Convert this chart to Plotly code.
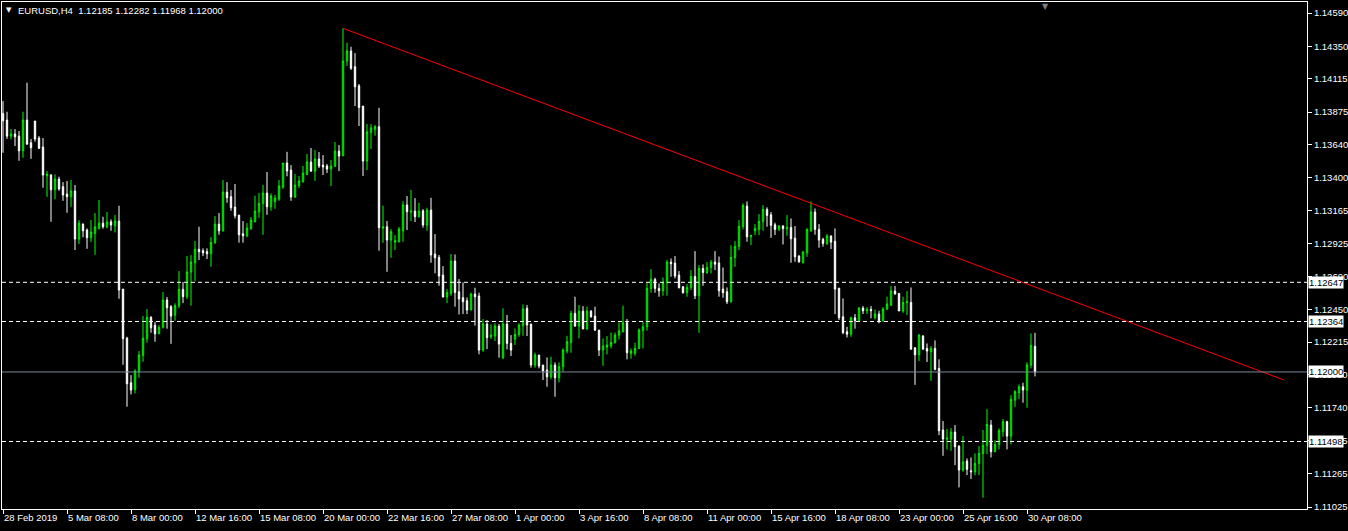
import plotly.graph_objects as go

# ---------------- data (EURUSD H4) ----------------
opens = [1.13866,1.13818,1.13702,1.13717,1.13702,1.13596,1.13818,1.13654,1.13811,1.13688,
 1.13623,1.13416,1.13421,1.13315,1.13392,1.13337,1.13284,1.13265,1.13306,1.12959,
 1.13067,1.13024,1.12969,1.13000,1.13036,1.13074,1.13048,1.13084,1.13055,1.13089,
 1.12598,1.12244,1.11922,1.11874,1.12002,1.12120,1.12240,1.12394,1.12338,1.12275,
 1.12322,1.12519,1.12471,1.12410,1.12478,1.12596,1.12543,1.12721,1.12788,1.12885,
 1.12875,1.12868,1.12853,1.12935,1.13067,1.13019,1.13298,1.13265,1.13190,1.13132,
 1.12997,1.12983,1.13034,1.13084,1.13156,1.13217,1.13291,1.13192,1.13229,1.13248,
 1.13334,1.13508,1.13457,1.13262,1.13346,1.13373,1.13426,1.13515,1.13450,1.13537,
 1.13493,1.13486,1.13464,1.13486,1.13594,1.13560,1.14244,1.14316,1.14203,1.14065,
 1.13919,1.13522,1.13729,1.13751,1.13770,1.13038,1.13048,1.12952,1.12937,1.12940,
 1.13019,1.13205,1.13154,1.13161,1.13120,1.13163,1.13060,1.13168,1.12851,1.12827,
 1.12699,1.12541,1.12567,1.12800,1.12579,1.12536,1.12514,1.12447,1.12562,1.12548,
 1.12158,1.12346,1.12254,1.12259,1.12331,1.12103,1.12346,1.12206,1.12237,1.12271,
 1.12334,1.12459,1.12346,1.12050,1.12122,1.12050,1.12014,1.11965,1.12050,1.11958,
 1.12038,1.12151,1.12213,1.12423,1.12331,1.12439,1.12310,1.12439,1.12403,1.12302,
 1.12158,1.12180,1.12189,1.12211,1.12266,1.12290,1.12355,1.12134,1.12134,1.12170,
 1.12298,1.12326,1.12603,1.12668,1.12603,1.12586,1.12646,1.12793,1.12786,1.12699,
 1.12615,1.12572,1.12610,1.12689,1.12550,1.12747,1.12718,1.12754,1.12793,1.12786,
 1.12598,1.12579,1.12507,1.12826,1.12906,1.13050,1.13197,1.12976,1.13019,1.13029,
 1.13087,1.13173,1.13134,1.13062,1.13029,1.13053,1.13034,1.13043,1.12966,1.12836,
 1.12788,1.12860,1.13019,1.13154,1.13029,1.12957,1.12928,1.12981,1.12944,1.12605,
 1.12398,1.12290,1.12273,1.12391,1.12370,1.12461,1.12442,1.12451,1.12391,1.12418,
 1.12370,1.12454,1.12483,1.12584,1.12567,1.12440,1.12502,1.12502,1.12175,1.12124,
 1.12259,1.12170,1.12146,1.12170,1.12026,1.11581,1.11516,1.11516,1.11566,1.11465,
 1.11292,1.11357,1.11287,1.11280,1.11340,1.11412,1.11470,1.11617,1.11424,1.11477,
 1.11569,1.11641,1.11537,1.11797,1.11850,1.11893,1.11869,1.12050,1.12185]

highs = [1.13955,1.13878,1.13753,1.13753,1.13739,1.13878,1.14087,1.13681,1.13811,1.13702,
 1.13688,1.13450,1.13428,1.13426,1.13409,1.13370,1.13378,1.13385,1.13349,1.13096,
 1.13072,1.13036,1.13096,1.13147,1.13241,1.13120,1.13154,1.13101,1.13132,1.13200,
 1.12598,1.12254,1.11977,1.12019,1.12151,1.12403,1.12454,1.12403,1.12362,1.12338,
 1.12577,1.12541,1.12483,1.12495,1.12728,1.12649,1.12837,1.12843,1.12945,1.13048,
 1.12892,1.12892,1.12973,1.13125,1.13147,1.13385,1.13370,1.13313,1.13356,1.13132,
 1.13089,1.13074,1.13118,1.13272,1.13293,1.13349,1.13443,1.13289,1.13277,1.13385,
 1.13508,1.13589,1.13493,1.13428,1.13414,1.13486,1.13573,1.13616,1.13601,1.13587,
 1.13565,1.13501,1.13529,1.13659,1.13638,1.14480,1.14376,1.14347,1.14301,1.14078,
 1.13919,1.13789,1.13789,1.13782,1.13907,1.13200,1.13089,1.13031,1.12988,1.13046,
 1.13233,1.13270,1.13313,1.13255,1.13221,1.13175,1.13185,1.13257,1.12995,1.12844,
 1.12764,1.12598,1.12851,1.12848,1.12670,1.12646,1.12538,1.12572,1.12608,1.12572,
 1.12382,1.12375,1.12343,1.12351,1.12346,1.12459,1.12411,1.12266,1.12314,1.12351,
 1.12488,1.12483,1.12346,1.12139,1.12122,1.12050,1.12105,1.12110,1.12069,1.12069,
 1.12170,1.12261,1.12442,1.12543,1.12483,1.12475,1.12471,1.12447,1.12471,1.12302,
 1.12242,1.12259,1.12285,1.12285,1.12358,1.12478,1.12382,1.12170,1.12211,1.12314,
 1.12362,1.12641,1.12742,1.12680,1.12639,1.12682,1.12808,1.12819,1.12836,1.12728,
 1.12620,1.12634,1.12735,1.12872,1.12771,1.12776,1.12793,1.12808,1.12872,1.12833,
 1.12754,1.12610,1.12915,1.12944,1.13096,1.13217,1.13231,1.12986,1.13067,1.13139,
 1.13204,1.13188,1.13154,1.13077,1.13060,1.13060,1.13132,1.13108,1.13053,1.12843,
 1.12872,1.13036,1.13231,1.13180,1.13067,1.12969,1.12995,1.12986,1.13036,1.12605,
 1.12531,1.12326,1.12398,1.12418,1.12468,1.12475,1.12468,1.12475,1.12451,1.12442,
 1.12468,1.12543,1.12620,1.12620,1.12567,1.12543,1.12584,1.12610,1.12175,1.12273,
 1.12266,1.12206,1.12187,1.12228,1.12091,1.11646,1.11588,1.11595,1.11617,1.11470,
 1.11537,1.11376,1.11383,1.11412,1.11465,1.11581,1.11732,1.11653,1.11508,1.11593,
 1.11660,1.11648,1.11833,1.11869,1.11910,1.11922,1.12069,1.12278,1.12282]

lows = [1.13582,1.13682,1.13679,1.13630,1.13524,1.13546,1.13638,1.13538,1.13662,1.13609,
 1.13330,1.13264,1.13084,1.13246,1.13308,1.13235,1.13149,1.13192,1.12880,1.12923,
 1.12972,1.12889,1.12939,1.12846,1.13029,1.13034,1.13036,1.13019,1.13007,1.12528,
 1.12052,1.11749,1.11838,1.11845,1.11958,1.12074,1.12211,1.12283,1.12218,1.12275,
 1.12314,1.12312,1.12203,1.12370,1.12461,1.12497,1.12526,1.12478,1.12656,1.12808,
 1.12836,1.12815,1.12759,1.12923,1.12990,1.13012,1.13221,1.13163,1.13108,1.12933,
 1.12933,1.12972,1.13026,1.13079,1.13113,1.12990,1.13134,1.13163,1.13178,1.13235,
 1.13322,1.13412,1.13235,1.13257,1.13327,1.13366,1.13421,1.13443,1.13380,1.13472,
 1.13421,1.13436,1.13342,1.13479,1.13450,1.13558,1.14210,1.14179,1.13919,1.13775,
 1.13414,1.13457,1.13609,1.13705,1.12875,1.12932,1.12723,1.12824,1.12880,1.12935,
 1.12940,1.13024,1.13089,1.13082,1.13115,1.13041,1.13019,1.12788,1.12712,1.12622,
 1.12538,1.12497,1.12550,1.12471,1.12415,1.12418,1.12418,1.12447,1.12334,1.12127,
 1.12146,1.12165,1.12237,1.12223,1.12103,1.12093,1.12163,1.12115,1.12194,1.12254,
 1.12261,1.12259,1.12031,1.12031,1.12026,1.11942,1.11893,1.11947,1.11821,1.11925,
 1.12002,1.12134,1.12139,1.12326,1.12242,1.12310,1.12307,1.12391,1.12295,1.12115,
 1.12045,1.12127,1.12170,1.12206,1.12235,1.12286,1.12091,1.12096,1.12117,1.12165,
 1.12170,1.12298,1.12572,1.12572,1.12543,1.12550,1.12550,1.12687,1.12675,1.12603,
 1.12565,1.12543,1.12591,1.12526,1.12283,1.12622,1.12706,1.12713,1.12735,1.12543,
 1.12536,1.12490,1.12500,1.12759,1.12880,1.13029,1.12940,1.12916,1.12988,1.12988,
 1.13019,1.13048,1.12968,1.12988,1.13017,1.12920,1.12983,1.12788,1.12795,1.12788,
 1.12784,1.12831,1.13012,1.12990,1.12897,1.12904,1.12916,1.12887,1.12417,1.12375,
 1.12273,1.12249,1.12254,1.12312,1.12362,1.12418,1.12418,1.12387,1.12379,1.12351,
 1.12362,1.12447,1.12476,1.12560,1.12440,1.12427,1.12411,1.12158,1.11907,1.12079,
 1.12158,1.12072,1.11937,1.12012,1.11544,1.11395,1.11441,1.11431,1.11328,1.11167,
 1.11280,1.11256,1.11227,1.11254,1.11256,1.11092,1.11407,1.11383,1.11424,1.11441,
 1.11532,1.11441,1.11477,1.11749,1.11804,1.11778,1.11742,1.12026,1.11968]

closes = [1.13813,1.13702,1.13717,1.13697,1.13596,1.13818,1.13645,1.13618,1.13681,1.13614,
 1.13421,1.13428,1.13315,1.13392,1.13320,1.13277,1.13265,1.13306,1.12959,1.13074,
 1.13019,1.12969,1.13010,1.13046,1.13074,1.13048,1.13082,1.13060,1.13089,1.12591,
 1.12240,1.11915,1.11869,1.12007,1.12122,1.12244,1.12394,1.12319,1.12275,1.12322,
 1.12519,1.12463,1.12403,1.12478,1.12596,1.12543,1.12721,1.12793,1.12885,1.12868,
 1.12860,1.12853,1.12935,1.13067,1.13019,1.13298,1.13257,1.13185,1.13127,1.12990,
 1.12983,1.13038,1.13096,1.13161,1.13217,1.13291,1.13192,1.13270,1.13255,1.13342,
 1.13508,1.13450,1.13262,1.13349,1.13378,1.13435,1.13515,1.13450,1.13537,1.13486,
 1.13479,1.13464,1.13486,1.13594,1.13558,1.14244,1.14316,1.14191,1.14058,1.13909,
 1.13522,1.13733,1.13762,1.13770,1.13041,1.13048,1.12952,1.13012,1.12947,1.13031,
 1.13205,1.13156,1.13161,1.13120,1.13161,1.13060,1.13168,1.12844,1.12824,1.12692,
 1.12541,1.12572,1.12800,1.12574,1.12526,1.12507,1.12447,1.12562,1.12543,1.12158,
 1.12346,1.12247,1.12266,1.12331,1.12201,1.12346,1.12206,1.12158,1.12271,1.12338,
 1.12454,1.12339,1.12050,1.12122,1.12043,1.12007,1.11965,1.12050,1.11958,1.12038,
 1.12158,1.12218,1.12423,1.12331,1.12439,1.12310,1.12439,1.12398,1.12302,1.12158,
 1.12187,1.12194,1.12213,1.12266,1.12295,1.12355,1.12139,1.12151,1.12170,1.12302,
 1.12326,1.12603,1.12668,1.12603,1.12586,1.12646,1.12793,1.12781,1.12692,1.12608,
 1.12572,1.12610,1.12689,1.12550,1.12747,1.12718,1.12754,1.12793,1.12778,1.12586,
 1.12572,1.12507,1.12826,1.12906,1.13050,1.13202,1.12976,1.12986,1.13036,1.13087,
 1.13173,1.13130,1.13058,1.13029,1.13053,1.13034,1.13043,1.12961,1.12831,1.12795,
 1.12865,1.13029,1.13154,1.13029,1.12952,1.12928,1.12981,1.12937,1.12598,1.12391,
 1.12283,1.12273,1.12391,1.12370,1.12461,1.12442,1.12451,1.12442,1.12418,1.12370,
 1.12454,1.12490,1.12584,1.12562,1.12440,1.12502,1.12507,1.12165,1.12124,1.12266,
 1.12165,1.12151,1.12170,1.12019,1.11575,1.11516,1.11523,1.11566,1.11460,1.11292,
 1.11352,1.11297,1.11280,1.11340,1.11412,1.11470,1.11621,1.11424,1.11477,1.11576,
 1.11641,1.11537,1.11802,1.11857,1.11893,1.11869,1.12050,1.12192,1.12000]

bars = list(range(len(closes)))

# time-axis labels (every 16 H4 bars)
time_tick_bars = [0, 16, 32, 48, 64, 80, 96, 112, 128, 144, 160, 176, 192, 208, 224, 240, 256]
time_tick_labels = ["28 Feb 2019", "5 Mar 08:00", "8 Mar 00:00", "12 Mar 16:00", "15 Mar 08:00",
                    "20 Mar 00:00", "22 Mar 16:00", "27 Mar 08:00", "1 Apr 00:00", "3 Apr 16:00",
                    "8 Apr 08:00", "11 Apr 00:00", "15 Apr 16:00", "18 Apr 08:00", "23 Apr 00:00",
                    "25 Apr 16:00", "30 Apr 08:00"]

price_ticks = [1.14590, 1.14350, 1.14115, 1.13875, 1.13640, 1.13400, 1.13165, 1.12925,
               1.12690, 1.12450, 1.12215, 1.11980, 1.11740, 1.11505, 1.11265, 1.11025]

dashed_levels = [1.12647, 1.12364, 1.11498]
bid_level = 1.12000

trend_bars = [85, 320.25]
trend_prices = [1.14480, 1.11942]

symbol_text = "EURUSD,H4\u00a0\u00a01.12185 1.12282 1.11968 1.12000"

# ---------------- figure ----------------
FONT = "Liberation Sans"
fig = go.Figure()

fig.add_trace(go.Candlestick(
    x=bars, open=opens, high=highs, low=lows, close=closes,
    increasing=dict(line=dict(color="#00FF00", width=1), fillcolor="#000000"),
    decreasing=dict(line=dict(color="#FFFFFF", width=1), fillcolor="#FFFFFF"),
    whiskerwidth=0, showlegend=False, hoverinfo="skip",
))

fig.add_trace(go.Scatter(
    x=trend_bars, y=trend_prices, mode="lines",
    line=dict(color="#FF0000", width=1), showlegend=False, hoverinfo="skip",
))

shapes = []
for lv in dashed_levels:
    shapes.append(dict(type="line", xref="paper", x0=0, x1=1, yref="y", y0=lv, y1=lv,
                       line=dict(color="#FFFFFF", width=1, dash="4px,3px"), layer="above"))
shapes.append(dict(type="line", xref="paper", x0=0, x1=1, yref="y", y0=bid_level, y1=bid_level,
                   line=dict(color="#778899", width=1), layer="above"))

annotations = []
for lv in dashed_levels + [bid_level]:
    annotations.append(dict(xref="paper", x=1, xanchor="left", xshift=1,
                            yref="y", y=lv, yanchor="middle",
                            text=f"{lv:.5f}", showarrow=False,
                            bgcolor="#FFFFFF", borderpad=0,
                            font=dict(family=FONT, size=9.5, color="#000000")))
annotations.append(dict(xref="paper", x=0, xanchor="left", xshift=2,
                        yref="paper", y=1, yanchor="middle", yshift=-8,
                        text="\u25bc", showarrow=False,
                        font=dict(family="DejaVu Sans", size=7, color="#FFFFFF")))
annotations.append(dict(xref="paper", x=0, xanchor="left", xshift=14,
                        yref="paper", y=1, yanchor="middle", yshift=-8,
                        text=symbol_text, showarrow=False,
                        font=dict(family=FONT, size=9.5, color="#FFFFFF")))
annotations.append(dict(xref="x", x=260.5, xanchor="center",
                        yref="paper", y=1, yanchor="top", yshift=2,
                        text="\u25bc", showarrow=False,
                        font=dict(family="DejaVu Sans", size=8, color="#7F7F7F")))

fig.update_layout(
    width=1348, height=531,
    margin=dict(l=2, r=41, t=2, b=22, autoexpand=False),
    paper_bgcolor="#000000", plot_bgcolor="#000000",
    font=dict(family=FONT, size=9.5, color="#FFFFFF"),
    showlegend=False, hovermode=False, boxgap=0.5,
    shapes=shapes, annotations=annotations,
    xaxis=dict(
        range=[-0.25, 326], rangeslider=dict(visible=False),
        showgrid=False, zeroline=False,
        showline=True, linecolor="#FFFFFF", linewidth=1, mirror=True,
        tickmode="array", tickvals=time_tick_bars, ticktext=time_tick_labels,
        ticks="outside", ticklen=4, tickcolor="#FFFFFF", tickwidth=1,
        ticklabelposition="outside right", tickangle=0,
        tickfont=dict(family=FONT, size=9.5, color="#FFFFFF"),
        fixedrange=True,
    ),
    yaxis=dict(
        range=[1.11011, 1.14670], side="right",
        showgrid=False, zeroline=False,
        showline=True, linecolor="#FFFFFF", linewidth=1, mirror=True,
        tickmode="array", tickvals=price_ticks, ticktext=[f"{v:.5f}" for v in price_ticks],
        ticks="outside", ticklen=4, tickcolor="#FFFFFF", tickwidth=1,
        tickfont=dict(family=FONT, size=9.5, color="#FFFFFF"),
        fixedrange=True,
    ),
)

fig.write_html("out.html", config={"displayModeBar": False, "staticPlot": True},
               post_script="document.body.style.margin='0px';document.body.style.overflow='hidden';")
